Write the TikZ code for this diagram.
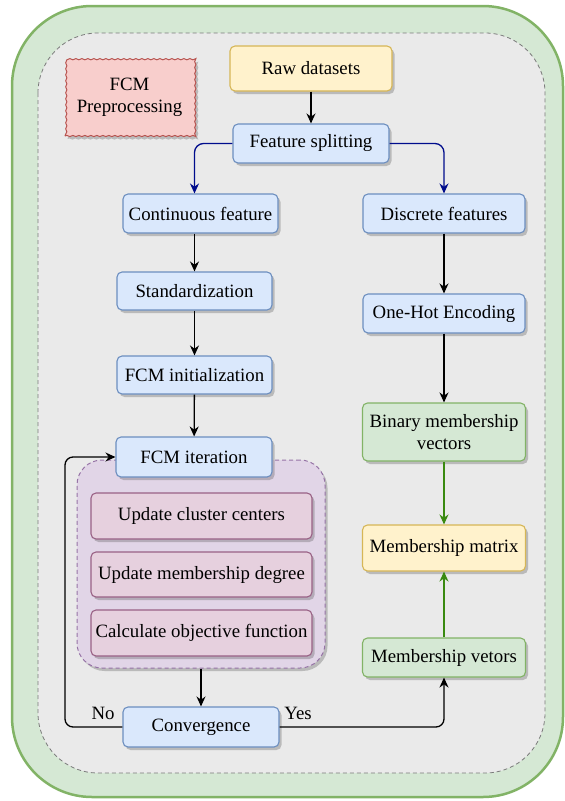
\documentclass[tikz,border=0pt]{standalone}
\usepackage{fontspec}
\setmainfont{Liberation Serif}
\newfontfamily\tnr{Liberation Serif}
\usetikzlibrary{shadows,arrows.meta,decorations.pathmorphing,calc}
\definecolor{outfill}{HTML}{D5E8D4}
\definecolor{outdraw}{HTML}{82B366}
\definecolor{infill}{HTML}{EAEAEA}
\definecolor{indraw}{HTML}{7A7A7A}
\definecolor{bluefill}{HTML}{DAE8FC}
\definecolor{bluedraw}{HTML}{6C8EBF}
\definecolor{yelfill}{HTML}{FFF2CC}
\definecolor{yeldraw}{HTML}{D6B656}
\definecolor{redfill}{HTML}{F8CECC}
\definecolor{reddraw}{HTML}{B85450}
\definecolor{purfill}{HTML}{E1D5E7}
\definecolor{purdraw}{HTML}{9673A6}
\definecolor{pinkfill}{HTML}{E6D0DE}
\definecolor{pinkdraw}{HTML}{996185}
\definecolor{navyline}{HTML}{000C8C}
\definecolor{greenline}{HTML}{3A8A10}
\begin{document}
\begin{tikzpicture}[x=1pt,y=-1pt,
  font=\tnr\fontsize{18.8}{22}\selectfont,
  shad/.style={drop shadow={opacity=0.3,fill=black!70,shadow xshift=2.5pt,shadow yshift=-3pt}},
  basebox/.style={draw,rounded corners=5pt,line width=1.1pt,align=center,inner sep=0pt,shad},
  bluebox/.style={basebox,fill=bluefill,draw=bluedraw},
  yelbox/.style={basebox,fill=yelfill,draw=yeldraw},
  greenbox/.style={basebox,fill=outfill,draw=outdraw},
  pinkbox/.style={basebox,fill=pinkfill,draw=pinkdraw,minimum width=221pt},
  arr/.style={draw=black,line width=1.3pt,-{Stealth[length=10pt,width=9pt]}},
  blarr/.style={draw=navyline,line width=1.3pt,rounded corners=9pt,-{Stealth[length=10pt,width=9pt]}},
  garr/.style={draw=greenline,line width=1.3pt,-{Stealth[length=10pt,width=9pt]}},
  lbl/.style={inner sep=0pt}
]
\useasboundingbox (0,0) rectangle (565,801);
% outer and inner containers
\draw[fill=outfill,draw=outdraw,line width=2.5pt,rounded corners=80pt] (12,6) rectangle (563,797);
\draw[fill=infill,draw=indraw,line width=0.8pt,dash pattern=on 4pt off 3pt,rounded corners=60pt] (38,33) rectangle (545,773);

% legend box
\node[fill=redfill,draw=reddraw,line width=1pt,decorate,decoration={snake,amplitude=0.6pt,segment length=6pt},
      minimum width=129pt,minimum height=77pt,align=center,inner sep=0pt,shad] (prep) at (129.5,97.5) {FCM\\Preprocessing};

% top
\node[yelbox,minimum width=162pt,minimum height=45pt] (raw) at (311,68.5) {Raw datasets};
\node[bluebox,minimum width=156pt,minimum height=39pt] (split) at (311,143.5) {Feature splitting};

% left column
\node[bluebox,minimum width=155pt,minimum height=39pt] (cont) at (200.5,213.5) {Continuous feature};
\node[bluebox,minimum width=155pt,minimum height=38pt] (stand) at (194.5,291) {Standardization};
\node[bluebox,minimum width=155pt,minimum height=38pt] (init) at (194.5,375) {FCM initialization};

% iteration group
\node[draw=purdraw,fill=purfill,line width=1pt,dash pattern=on 4pt off 3pt,rounded corners=25pt,
      minimum width=248pt,minimum height=208pt,inner sep=0pt,shad] (grp) at (201,564) {};
\node[pinkbox,minimum height=46pt] (upd1) at (201.5,516) {Update cluster centers};
\node[pinkbox,minimum height=45pt] (upd2) at (201.5,574.5) {Update membership degree};
\node[pinkbox,minimum height=46pt] (calc) at (201.5,633) {Calculate objective function};
\node[bluebox,minimum width=156pt,minimum height=40pt] (iter) at (194,457) {FCM iteration};
\node[bluebox,minimum width=156pt,minimum height=40pt] (conv) at (201,727) {Convergence};

% right column
\node[bluebox,minimum width=162pt,minimum height=39pt] (disc) at (444,213.5) {Discrete features};
\node[bluebox,minimum width=162pt,minimum height=39pt] (onehot) at (444,313.5) {One-Hot Encoding};
\node[greenbox,minimum width=163pt,minimum height=58pt] (binary) at (444,432) {Binary membership\\vectors};
\node[yelbox,minimum width=163pt,minimum height=46pt] (matrix) at (444,548) {Membership matrix};
\node[greenbox,minimum width=163pt,minimum height=39pt] (vetors) at (444,657.5) {Membership vetors};

% connectors
\draw[arr] (raw) -- (split);
\draw[blarr] (split.west) -| (cont.north -| stand.north);
\draw[blarr] (split.east) -| (disc.north);
\draw[arr] (cont.south -| stand.north) -- (stand.north);
\draw[arr] (stand) -- (init);
\draw[arr] (init) -- (iter);
\draw[arr] (disc) -- (onehot);
\draw[arr] (onehot) -- (binary);
\draw[garr] (binary) -- (matrix);
\draw[garr] (vetors) -- (matrix);
\draw[arr] (grp.south -| conv.north) -- (conv.north);
\coordinate (lx) at (65,0);
\draw[arr,rounded corners=8pt] (conv.west) -- (conv.west -| lx) |- (iter.west);
\draw[arr,rounded corners=8pt] (conv.east) -| (vetors.south);

% labels
\node[lbl] (no) at (103,713) {No};
\node[lbl] (yes) at (298,713) {Yes};
\end{tikzpicture}
\end{document}
